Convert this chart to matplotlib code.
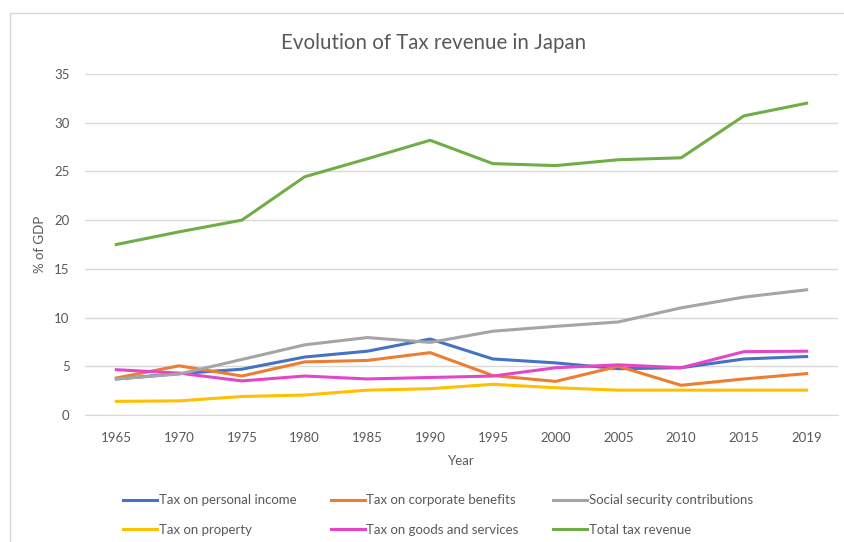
import matplotlib.pyplot as plt
from matplotlib.patches import Rectangle

years = ['1965', '1970', '1975', '1980', '1985', '1990', '1995', '2000',
         '2005', '2010', '2015', '2019']
personal_income = [3.7, 4.25, 4.7, 5.95, 6.55, 7.8, 5.75, 5.35, 4.75, 4.85, 5.75, 6.0]
corporate = [3.8, 5.05, 4.0, 5.45, 5.6, 6.4, 4.05, 3.45, 5.0, 3.05, 3.7, 4.25]
social_security = [3.7, 4.2, 5.7, 7.2, 7.95, 7.45, 8.6, 9.1, 9.55, 11.0, 12.1, 12.85]
property_tax = [1.4, 1.45, 1.9, 2.05, 2.55, 2.7, 3.15, 2.8, 2.55, 2.55, 2.55, 2.55]
goods_services = [4.65, 4.3, 3.5, 4.0, 3.7, 3.85, 4.0, 4.85, 5.15, 4.85, 6.5, 6.55]
total = [17.5, 18.8, 20.0, 24.45, 26.3, 28.2, 25.8, 25.6, 26.2, 26.4, 30.7, 32.0]

plt.rcParams['font.family'] = ['Lato', 'DejaVu Sans']

fig = plt.figure(figsize=(8.45, 5.42), dpi=100)
ax = fig.add_axes([85 / 845, 1 - 415 / 542, (838 - 85) / 845, (415 - 74) / 542])

# borde del area del grafico
fig.patches.append(Rectangle((10 / 845, -0.1), 1.2, 1 - 13 / 542 + 0.1,
                             transform=fig.transFigure, fill=False,
                             edgecolor='#D9D9D9', linewidth=1))

x = range(len(years))
lw = 2.2
ax.plot(x, personal_income, color='#4472C4', lw=lw, label='Tax on personal income')
ax.plot(x, property_tax, color='#FFC000', lw=lw, label='Tax on property')
ax.plot(x, corporate, color='#ED7D31', lw=lw, label='Tax on corporate benefits')
ax.plot(x, goods_services, color='#E545C9', lw=lw, label='Tax on goods and services')
ax.plot(x, social_security, color='#A5A5A5', lw=lw, label='Social security contributions')
ax.plot(x, total, color='#70AD47', lw=lw, label='Total tax revenue')

ax.set_xlim(-0.5, len(years) - 0.5)
ax.set_ylim(0, 35)
ax.set_yticks(range(0, 36, 5))
ax.set_xticks(list(x))
ax.set_xticklabels(years)
ax.grid(True, axis='y', color='#D9D9D9', linewidth=1)
ax.set_axisbelow(True)
for s in ax.spines.values():
    s.set_visible(False)
ax.spines['bottom'].set_visible(True)
ax.spines['bottom'].set_color('#D9D9D9')
ax.tick_params(length=0, labelsize=9.5, colors='#595959')
ax.tick_params(axis='x', pad=12)
ax.tick_params(axis='y', pad=11)

fig.text(434 / 845, 1 - 43 / 542, 'Evolution of Tax revenue in Japan', fontsize=14.8,
         color='#595959', ha='center', va='center')
ax.set_xlabel('Year', fontsize=9.5, color='#595959', labelpad=8)
ax.set_ylabel('% of GDP', fontsize=9.5, color='#595959', labelpad=6)

fig.legend(loc='center', bbox_to_anchor=(438 / 845, 1 - 515 / 542), ncol=3, frameon=False,
           fontsize=9.5, labelcolor='#595959', handlelength=2.6, handletextpad=0.1,
           columnspacing=2.6, labelspacing=1.3)

plt.savefig('out.png', dpi=100)
